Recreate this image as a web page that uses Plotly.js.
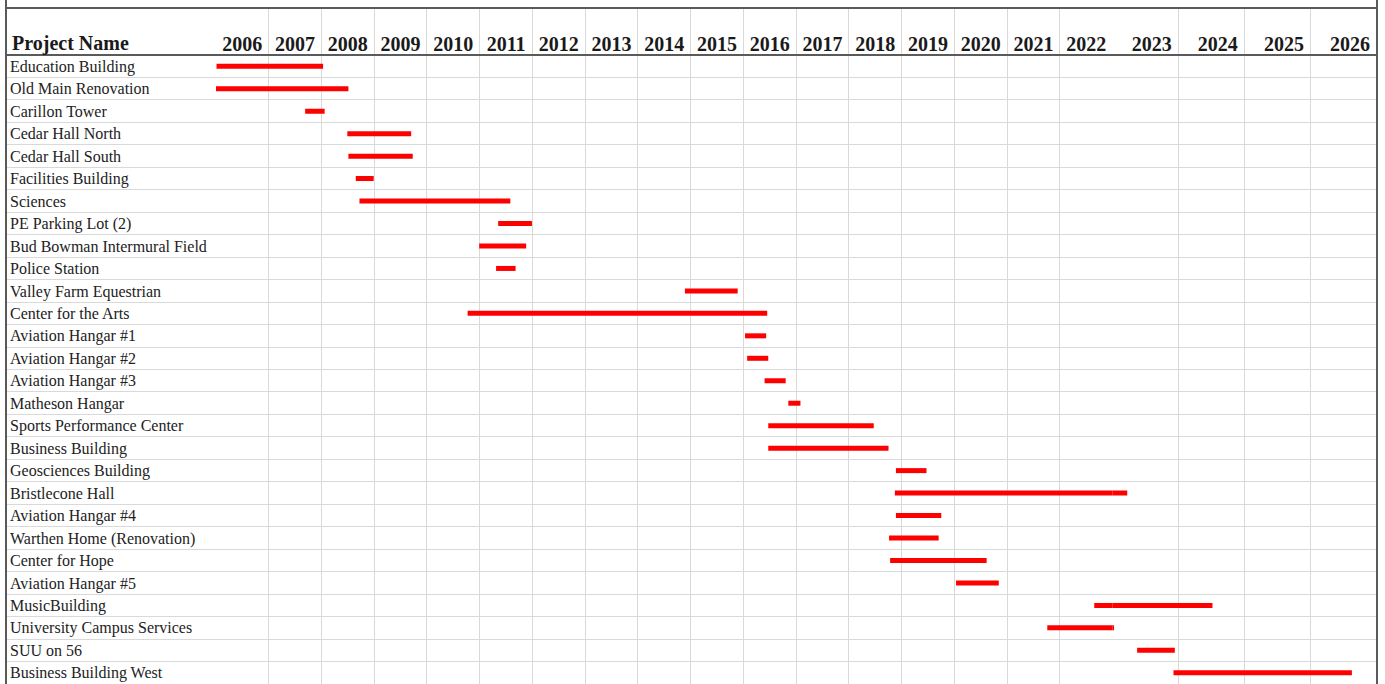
<!DOCTYPE html>
<html>
<head>
<meta charset="utf-8">
<script src="https://cdn.plot.ly/plotly-3.0.1.min.js"></script>
<style>
html, body { margin: 0; padding: 0; background: #ffffff; }
#chart { width: 1385px; height: 684px; }
</style>
</head>
<body>
<div id="chart"></div>
<script>
// ---- data ----
const projects = [
  "Education Building", "Old Main Renovation", "Carillon Tower", "Cedar Hall North",
  "Cedar Hall South", "Facilities Building", "Sciences", "PE Parking Lot (2)",
  "Bud Bowman Intermural Field", "Police Station", "Valley Farm Equestrian", "Center for the Arts",
  "Aviation Hangar #1", "Aviation Hangar #2", "Aviation Hangar #3", "Matheson Hangar",
  "Sports Performance Center", "Business Building", "Geosciences Building", "Bristlecone Hall",
  "Aviation Hangar #4", "Warthen Home (Renovation)", "Center for Hope", "Aviation Hangar #5",
  "MusicBuilding", "University Campus Services", "SUU on 56", "Business Building West"
];
const startYears = [
  2006.01, 2005.97, 2007.69, 2008.49,
  2008.51, 2008.65, 2008.72, 2011.35,
  2010.99, 2011.31, 2014.89, 2010.77,
  2016.03, 2016.07, 2016.40, 2016.85,
  2016.47, 2016.47, 2018.89, 2018.87,
  2018.89, 2018.76, 2018.78, 2020.03,
  2022.65, 2021.76, 2023.37, 2023.92
];
const endYears = [
  2008.03, 2008.51, 2008.06, 2009.70,
  2009.73, 2008.99, 2011.58, 2011.99,
  2011.88, 2011.68, 2015.89, 2016.45,
  2016.43, 2016.47, 2016.80, 2017.08,
  2018.47, 2018.75, 2019.47, 2023.22,
  2019.75, 2019.70, 2020.61, 2020.84,
  2024.51, 2023.02, 2023.94, 2026.62
];
const yearsNarrow = ["2006","2007","2008","2009","2010","2011","2012","2013","2014",
                     "2015","2016","2017","2018","2019","2020","2021","2022"];
const yearsWide = ["2023","2024","2025","2026"];
const headerLabel = "Project Name";

// ---- geometry ----
const W = 1385, H = 684;
const ML = 6, MR = 8, MT = 9, MB = 0;
const PW = W - ML - MR, PH = H - MT - MB;
const px = v => (v - ML) / PW;
const FIRST = 2006, SPLIT = 2023, LAST = 2027;
const HEADER_ROWS = 2.05;

const SERIF = "'Liberation Serif', 'Times New Roman', serif";
const GRID = "#d9d9d9";
const BORDER = "#5a5a5a";

// each axis gets the part of every bar that falls in its range (a little overlap,
// clipped by the plot area, so bars crossing the 2023 boundary stay continuous)
function segments(lo, hi) {
  const x = [], y = [];
  projects.forEach((p, i) => {
    const s = Math.max(startYears[i], lo), e = Math.min(endYears[i], hi);
    if (e > s) { x.push(s, e, null); y.push(i + 0.5, i + 0.5, null); }
  });
  return { x, y };
}
const segA = segments(-Infinity, SPLIT + 0.05);
const segB = segments(SPLIT - 0.05, Infinity);

const barLine = { color: "#ff0000", width: 5 };
const traces = [
  { x: segA.x, y: segA.y, xaxis: "x", yaxis: "y", mode: "lines", line: barLine,
    hoverinfo: "skip", showlegend: false },
  { x: segB.x, y: segB.y, xaxis: "x2", yaxis: "y", mode: "lines", line: barLine,
    hoverinfo: "skip", showlegend: false },
  { x: [0.5], y: [0.5], xaxis: "x3", yaxis: "y", mode: "none",
    hoverinfo: "skip", showlegend: false }
];

const yearFont = { family: SERIF, size: 20, color: "#1a1a1a", weight: "bold" };
function yearAxis(domain, lo, hi, labels, shift) {
  return {
    domain: domain, range: [lo, hi], anchor: "y", side: "top",
    tickmode: "array",
    tickvals: labels.map(t => Number(t) + 0.5),
    ticktext: labels,
    ticklabelposition: "inside", ticklabelstandoff: 29, ticklabelshift: shift,
    ticks: "", showgrid: false, zeroline: false,
    showline: true, linecolor: BORDER, linewidth: 2,
    tickfont: yearFont,
    minor: { tickmode: "linear", tick0: lo, dtick: 1, showgrid: true,
             gridcolor: GRID, gridwidth: 1, ticks: "" },
    fixedrange: true
  };
}

const layout = {
  width: W, height: H, autosize: false,
  margin: { l: ML, r: MR, t: MT, b: MB, pad: 0 },
  paper_bgcolor: "#ffffff", plot_bgcolor: "#ffffff",
  showlegend: false,
  xaxis3: {
    domain: [0, px(216)], range: [0, 1], anchor: "y", side: "top",
    showgrid: false, zeroline: false, showticklabels: false, ticks: "",
    showline: true, linecolor: BORDER, linewidth: 2, fixedrange: true
  },
  xaxis: yearAxis([px(216), px(1112.7)], FIRST, SPLIT, yearsNarrow, 0),
  xaxis2: yearAxis([px(1112.7), 1], SPLIT, LAST, yearsWide, 6),
  yaxis: {
    domain: [0, 1], range: [projects.length, -HEADER_ROWS], anchor: "x3", side: "left",
    tickmode: "array",
    tickvals: projects.map((p, i) => i + 0.5),
    ticktext: projects,
    ticklabelposition: "inside", ticklabelstandoff: 1,
    ticks: "", showgrid: false, showline: false,
    zeroline: true, zerolinecolor: BORDER, zerolinewidth: 2,
    tickfont: { family: SERIF, size: 16, color: "#222222" },
    minor: { tickmode: "array", tickvals: projects.map((p, i) => i + 1),
             showgrid: true, gridcolor: GRID, gridwidth: 1, ticks: "" },
    fixedrange: true
  },
  annotations: [{
    text: headerLabel, xref: "paper", yref: "paper",
    x: px(10), y: 1 - (43 - MT) / PH, xanchor: "left", yanchor: "middle",
    showarrow: false, font: { family: SERIF, size: 20, color: "#1a1a1a", weight: "bold" }
  }],
  shapes: [
    { type: "line", xref: "paper", yref: "paper", x0: 0, x1: 0, y0: 0, y1: 1 + MT / PH,
      line: { color: BORDER, width: 2 } },
    { type: "line", xref: "paper", yref: "paper", x0: 1, x1: 1, y0: 0, y1: 1 + MT / PH,
      line: { color: BORDER, width: 2 } }
  ]
};

Plotly.newPlot("chart", traces, layout, { displayModeBar: false, staticPlot: true });
</script>
</body>
</html>
